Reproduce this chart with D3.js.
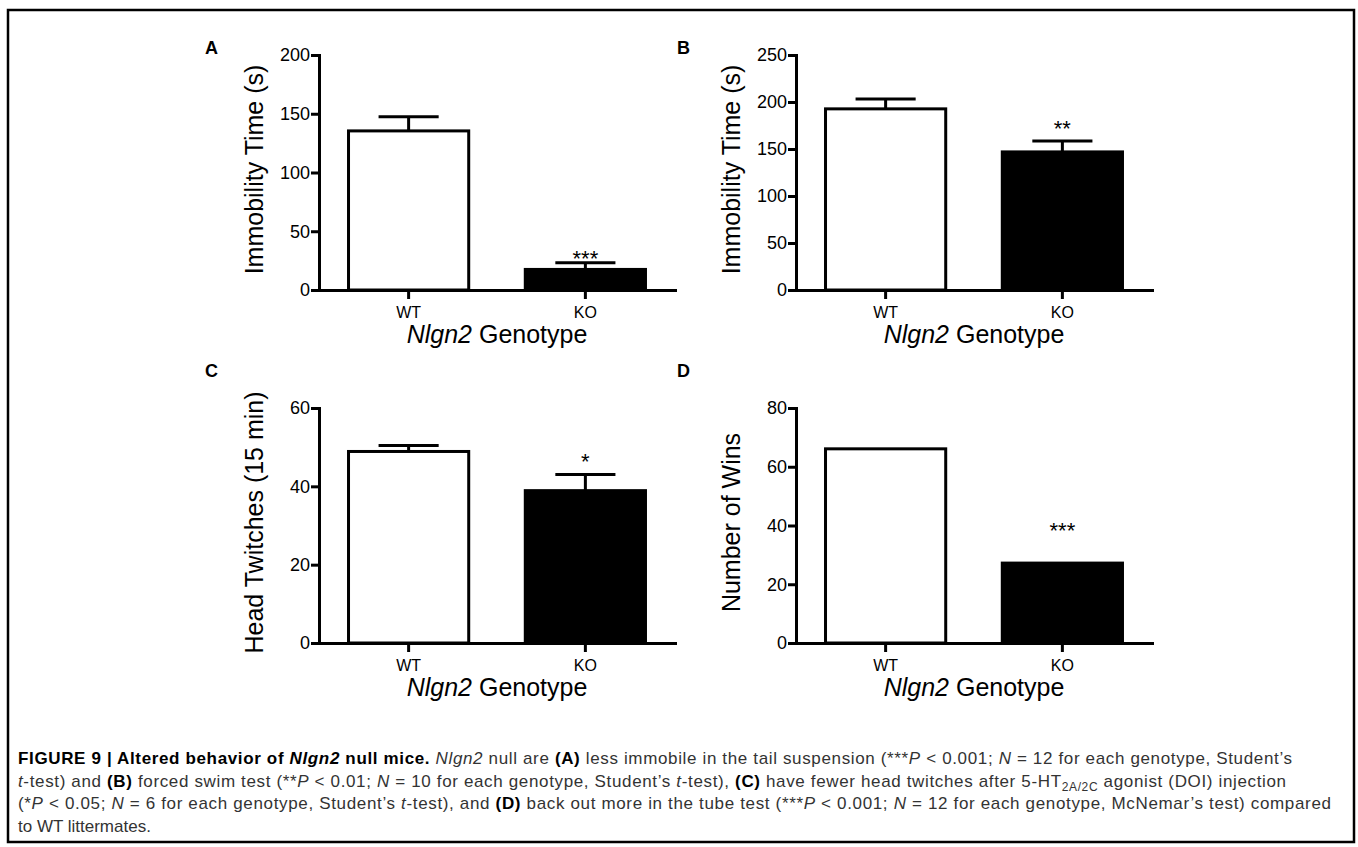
<!DOCTYPE html>
<html>
<head>
<meta charset="utf-8">
<script src="https://cdn.jsdelivr.net/npm/d3@7"></script>
<style>
  body { margin: 0; background: #fff; }
  svg { display: block; font-family: "Liberation Sans", Arial, sans-serif; }
  .cap { white-space: pre; }
</style>
</head>
<body>
<svg width="1358" height="847"></svg>
<script>
// values (means and SEM)
const genotypes = ['WT', 'KO']

const tailMeans = [135.4, 17.5]
const tailErrors = [12, 5.7]
const tailTicks = [0, 50, 100, 150, 200]

const swimMeans = [192.7, 146.9]
const swimErrors = [10.5, 11.6]
const swimTicks = [0, 50, 100, 150, 200, 250]

const twitchMeans = [48.9, 38.9]
const twitchErrors = [1.5, 4.1]
const twitchTicks = [0, 20, 40, 60]

const winCounts = [66.1, 27.2]
const winTicks = [0, 20, 40, 60, 80]

const panelLetters = ['A', 'B', 'C', 'D']
const yTitles = ['Immobility Time (s)', 'Immobility Time (s)', 'Head Twitches (15 min)', 'Number of Wins']
const starLabels = ['***', '**', '*', '***']
// where the significance stars sit, in data units of each panel
const starValues = [31.7, 177.7, 47.6, 40]

const svg = d3.select('svg')
const plotW = 356
const plotH = 235

// outer frame
svg.append('rect')
  .attr('x', 8).attr('y', 10)
  .attr('width', 1346).attr('height', 832)
  .attr('fill', 'none').attr('stroke', '#000').attr('stroke-width', 2.5)

const panels = [
  {left: 319, top: 55, means: tailMeans, errors: tailErrors, ticks: tailTicks},
  {left: 796, top: 55, means: swimMeans, errors: swimErrors, ticks: swimTicks},
  {left: 319, top: 408, means: twitchMeans, errors: twitchErrors, ticks: twitchTicks},
  {left: 796, top: 408, means: winCounts, errors: null, ticks: winTicks}
]
const letterPos = [[205, 54], [677, 54], [205, 377], [677, 377]]

panels.forEach((p, i) => drawPanel(p, i))

function drawPanel(p, i) {
  const g = svg.append('g').attr('transform', 'translate(' + p.left + ',' + p.top + ')')

  const x = d3.scaleBand().domain(genotypes).range([0, plotW])
    .paddingInner(0.32).paddingOuter(0.167)
  const y = d3.scaleLinear().domain([0, d3.max(p.ticks)]).range([plotH, 0])

  // bars
  g.selectAll('.bar')
    .data(p.means)
    .join('rect')
      .attr('class', 'bar')
      .attr('x', (d, k) => x(genotypes[k]))
      .attr('y', d => y(d))
      .attr('width', x.bandwidth())
      .attr('height', d => plotH - y(d))
      .attr('fill', (d, k) => k ? '#000' : '#fff')
      .attr('stroke', '#000')
      .attr('stroke-width', 3)

  // error bars (upper half only)
  if (p.errors) {
    const err = g.selectAll('.err')
      .data(p.means.map((m, k) => ({m, e: p.errors[k], c: x(genotypes[k]) + x.bandwidth() / 2})))
      .join('g').attr('class', 'err')
    err.append('line')
      .attr('x1', d => d.c).attr('x2', d => d.c)
      .attr('y1', d => y(d.m)).attr('y2', d => y(d.m + d.e))
    err.append('line')
      .attr('x1', d => d.c - x.bandwidth() / 4).attr('x2', d => d.c + x.bandwidth() / 4)
      .attr('y1', d => y(d.m + d.e)).attr('y2', d => y(d.m + d.e))
    err.selectAll('line').attr('stroke', '#000').attr('stroke-width', 3)
  }

  // x axis
  const xAxis = g.append('g')
    .attr('transform', 'translate(0,' + plotH + ')')
    .call(d3.axisBottom(x).tickSize(9).tickSizeOuter(0))
  xAxis.selectAll('text')
    .attr('y', 27.5).attr('dy', 0)
    .attr('font-size', 16).attr('fill', '#000')
    .attr('font-family', '"Liberation Sans", Arial, sans-serif')

  // y axis
  const yAxis = g.append('g')
    .call(d3.axisLeft(y).tickValues(p.ticks).tickSize(8).tickSizeOuter(0).tickPadding(1))
  yAxis.selectAll('text')
    .attr('font-size', 18).attr('fill', '#000')
    .attr('font-family', '"Liberation Sans", Arial, sans-serif')

  g.selectAll('.domain').attr('stroke-width', 3).attr('stroke-linecap', 'square')
  g.selectAll('.tick line').attr('stroke-width', 3)

  // axis titles
  g.append('text')
    .attr('transform', 'translate(-56,' + (plotH / 2 - 3) + ') rotate(-90)')
    .attr('text-anchor', 'middle')
    .attr('font-size', 25)
    .text(yTitles[i])

  const xt = g.append('text')
    .attr('x', plotW / 2).attr('y', plotH + 53)
    .attr('text-anchor', 'middle')
    .attr('font-size', 25)
    .attr('class', 'cap')
  xt.append('tspan').attr('font-style', 'italic').text('Nlgn2')
  xt.append('tspan').text(' Genotype')

  // significance stars over KO bar
  g.append('text')
    .attr('x', x('KO') + x.bandwidth() / 2)
    .attr('y', y(starValues[i]))
    .attr('dy', '0.58em')
    .attr('text-anchor', 'middle')
    .attr('font-size', 22)
    .text(starLabels[i])

  // panel letter
  svg.append('text')
    .attr('x', letterPos[i][0]).attr('y', letterPos[i][1])
    .attr('font-size', 18).attr('font-weight', 'bold')
    .text(panelLetters[i])
}

// caption
const captionLines = [
  [['FIGURE 9 | Altered behavior of ', 'b'], ['Nlgn2', 'bi'], [' null mice. ', 'b'], ['Nlgn2', 'i'],
   [' null are ', ''], ['(A)', 'b'], [' less immobile in the tail suspension (***', ''], ['P', 'i'],
   [' < 0.001; ', ''], ['N', 'i'], [' = 12 for each genotype, Student\u2019s', '']],
  [['t', 'i'], ['-test) and ', ''], ['(B)', 'b'], [' forced swim test (**', ''], ['P', 'i'],
   [' < 0.01; ', ''], ['N', 'i'], [' = 10 for each genotype, Student\u2019s ', ''], ['t', 'i'],
   ['-test), ', ''], ['(C)', 'b'], [' have fewer head twitches after 5-HT', ''], ['2A/2C', 'sub'],
   [' agonist (DOI) injection', '']],
  [['(*', ''], ['P', 'i'], [' < 0.05; ', ''], ['N', 'i'], [' = 6 for each genotype, Student\u2019s ', ''],
   ['t', 'i'], ['-test), and ', ''], ['(D)', 'b'], [' back out more in the tube test (***', ''], ['P', 'i'],
   [' < 0.001; ', ''], ['N', 'i'], [' = 12 for each genotype, McNemar\u2019s test) compared', '']],
  [['to WT littermates.', '']]
]
// the caption font is wider than ours, so stretch each full line to its width
const captionWidths = [1274, 1268, 1313, null]

captionLines.forEach((segs, li) => {
  const t = svg.append('text')
    .attr('class', 'cap')
    .attr('x', 18).attr('y', 764 + li * 22.7)
    .attr('font-size', 17).attr('fill', '#333')
  if (captionWidths[li]) t.attr('textLength', captionWidths[li]).attr('lengthAdjust', 'spacing')
  let shift = 0
  segs.forEach(([s, style]) => {
    const ts = t.append('tspan').text(s)
    if (style === 'b' || style === 'bi') ts.attr('font-weight', 'bold').attr('fill', '#000')
    if (style === 'i' || style === 'bi') ts.attr('font-style', 'italic')
    if (style === 'sub') {
      ts.attr('font-size', 12).attr('dy', 4)
      shift = 4
    } else if (shift) {
      ts.attr('dy', -shift)
      shift = 0
    }
  })
})
</script>
</body>
</html>
